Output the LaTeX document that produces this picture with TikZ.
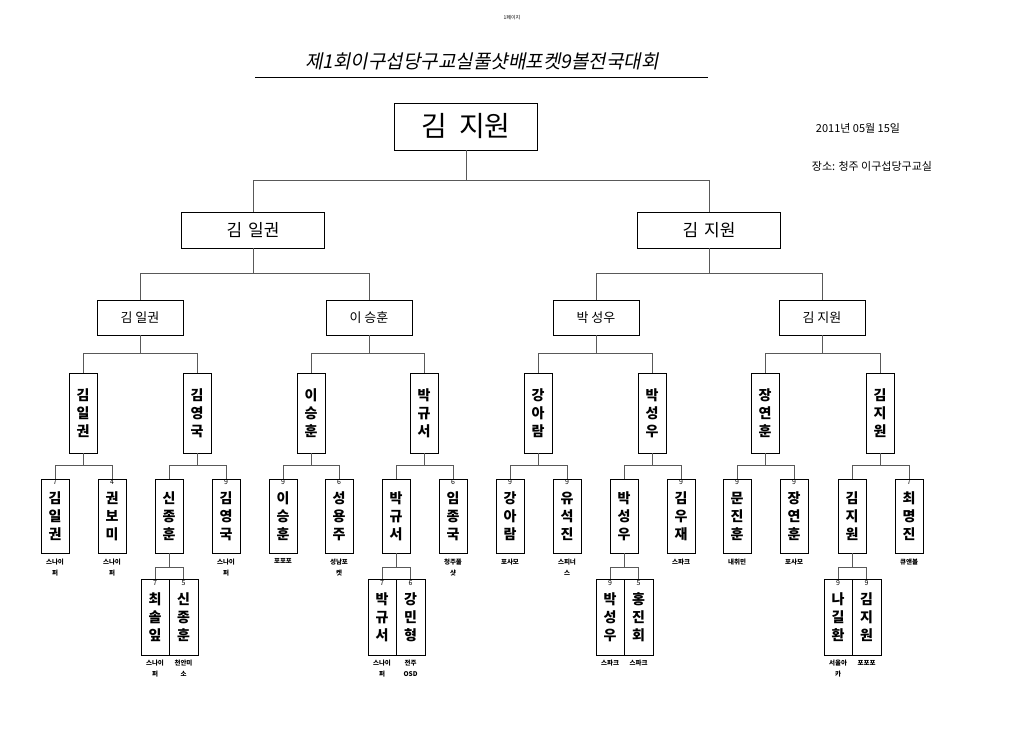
\documentclass[tikz,border=0pt]{standalone}
\usepackage{fontspec}
\setmainfont{Noto Sans CJK KR}
\newfontfamily\titlefont{Noto Sans CJK KR}[FakeSlant=0.2]
\usetikzlibrary{positioning}

\tikzset{
  box/.style={draw, thick, inner sep=0pt, align=center},
  vbox/.style={box, minimum width=28pt, font=\fontsize{14}{18}\selectfont\bfseries},
  pbox/.style={draw, thin, inner sep=0pt, align=center, minimum width=28.5pt,
    minimum height=76pt, font=\fontsize{14}{18}\selectfont\bfseries},
  score/.style={anchor=north, inner sep=1pt, font=\fontsize{7}{7}\selectfont},
  club/.style={anchor=north, inner sep=0pt, yshift=-5pt, align=center,
    font=\fontsize{6.5}{11}\selectfont\bfseries},
  link/.style={thin, gray!70!black}
}

\begin{document}
\begin{tikzpicture}[x=1pt, y=-1pt]
\useasboundingbox (0,0) rectangle (1024,744);

% header
\node[font=\fontsize{5}{5}\selectfont] (page) at (512,18) {1페이지};
\node[font=\fontsize{19}{19}\selectfont\titlefont] (title) at (482,61) {제1회이구섭당구교실풀샷배포켓9볼전국대회};
\draw[thick] (255,77) -- (708,77);
\node[font=\fontsize{11}{11}\selectfont] (date) at (858,128) {2011년 05월 15일};
\node[font=\fontsize{11}{11}\selectfont] (place) at (872,166) {장소: 청주 이구섭당구교실};

% final and semis
\node[box, minimum width=143pt, minimum height=47pt, font=\fontsize{28}{28}\selectfont] (f) at (466,126.5) {김\hspace{12pt}지원};
\node[box, minimum width=143pt, minimum height=36pt, font=\fontsize{17}{17}\selectfont] (s1) at (253,230) {김\hspace{6pt}일권};
\node[box, minimum width=143pt, minimum height=36pt, font=\fontsize{17}{17}\selectfont] (s2) at (709,230) {김\hspace{6pt}지원};

% quarter finals
\foreach \n/\x/\t in {q1/140/김 일권, q2/369/이 승훈, q3/596/박 성우, q4/822/김 지원}
  \node[box, minimum width=86pt, minimum height=35pt, font=\fontsize{13}{13}\selectfont] (\n) at (\x,317.5) {\t};

% last sixteen
\foreach \n/\x/\t in {r1/83/{김\\일\\권}, r2/197/{김\\영\\국}, r3/311/{이\\승\\훈}, r4/424/{박\\규\\서},
    r5/538/{강\\아\\람}, r6/652/{박\\성\\우}, r7/765/{장\\연\\훈}, r8/880/{김\\지\\원}}
  \node[vbox, minimum height=80pt] (\n) at (\x,413) {\t};

% first round
\foreach \n/\x/\t/\s/\c in {
    a1/55/{김\\일\\권}/7/{스나이\\퍼}, a2/112/{권\\보\\미}/4/{스나이\\퍼},
    a3/169/{신\\종\\훈}//{}, a4/226/{김\\영\\국}/9/{스나이\\퍼},
    a5/283/{이\\승\\훈}/9/{포포포}, a6/339/{성\\용\\주}/6/{성남포\\켓},
    a7/396/{박\\규\\서}//{}, a8/453/{임\\종\\국}/6/{청주풀\\샷},
    a9/510/{강\\아\\람}/9/{포사모}, a10/567/{유\\석\\진}/9/{스피너\\스},
    a11/624/{박\\성\\우}//{}, a12/681/{김\\우\\재}/9/{스파크},
    a13/737/{문\\진\\훈}/9/{내취민}, a14/794/{장\\연\\훈}/9/{포사모},
    a15/852/{김\\지\\원}//{}, a16/909/{최\\명\\진}/7/{큐앤볼}}{
  \node[vbox, minimum height=74pt] (\n) at (\x,516) {\t};
  \node[score] at (\n.north) {\s};
  \node[club] at (\n.south) {\c};
}

% preliminary round
\foreach \n/\x/\t/\s/\c in {
    p1/155/{최\\솔\\잎}/7/{스나이\\퍼}, p2/183.5/{신\\종\\훈}/5/{천안미\\소},
    p3/382/{박\\규\\서}/7/{스나이\\퍼}, p4/410.5/{강\\민\\형}/6/{전주\\OSD},
    p5/610/{박\\성\\우}/9/{스파크}, p6/638.5/{홍\\진\\회}/5/{스파크},
    p7/838/{나\\길\\환}/9/{서울아\\카}, p8/866.5/{김\\지\\원}/9/{포포포}}{
  \node[pbox] (\n) at (\x,617) {\t};
  \node[score] at (\n.north) {\s};
  \node[club] at (\n.south) {\c};
}

% bracket lines
\draw[link] (f.south) -- ++(0,30) coordinate (m0) -| (s1.north) (m0) -| (s2.north);
\draw[link] (s1.south) -- ++(0,25) coordinate (m1) -| (q1.north) (m1) -| (q2.north);
\draw[link] (s2.south) -- ++(0,25) coordinate (m2) -| (q3.north) (m2) -| (q4.north);
\foreach \q/\l/\r in {q1/r1/r2, q2/r3/r4, q3/r5/r6, q4/r7/r8}
  \draw[link] (\q.south) -- ++(0,18) coordinate (m) -| (\l.north) (m) -| (\r.north);
\foreach \q/\l/\r in {r1/a1/a2, r2/a3/a4, r3/a5/a6, r4/a7/a8,
    r5/a9/a10, r6/a11/a12, r7/a13/a14, r8/a15/a16}
  \draw[link] (\q.south) -- ++(0,12) coordinate (m) -| (\l.north) (m) -| (\r.north);
\foreach \q/\l/\r in {a3/p1/p2, a7/p3/p4, a11/p5/p6, a15/p7/p8}
  \draw[link] (\q.south) -- ++(0,14) coordinate (m) -| (\l.north) (m) -| (\r.north);
\end{tikzpicture}
\end{document}
